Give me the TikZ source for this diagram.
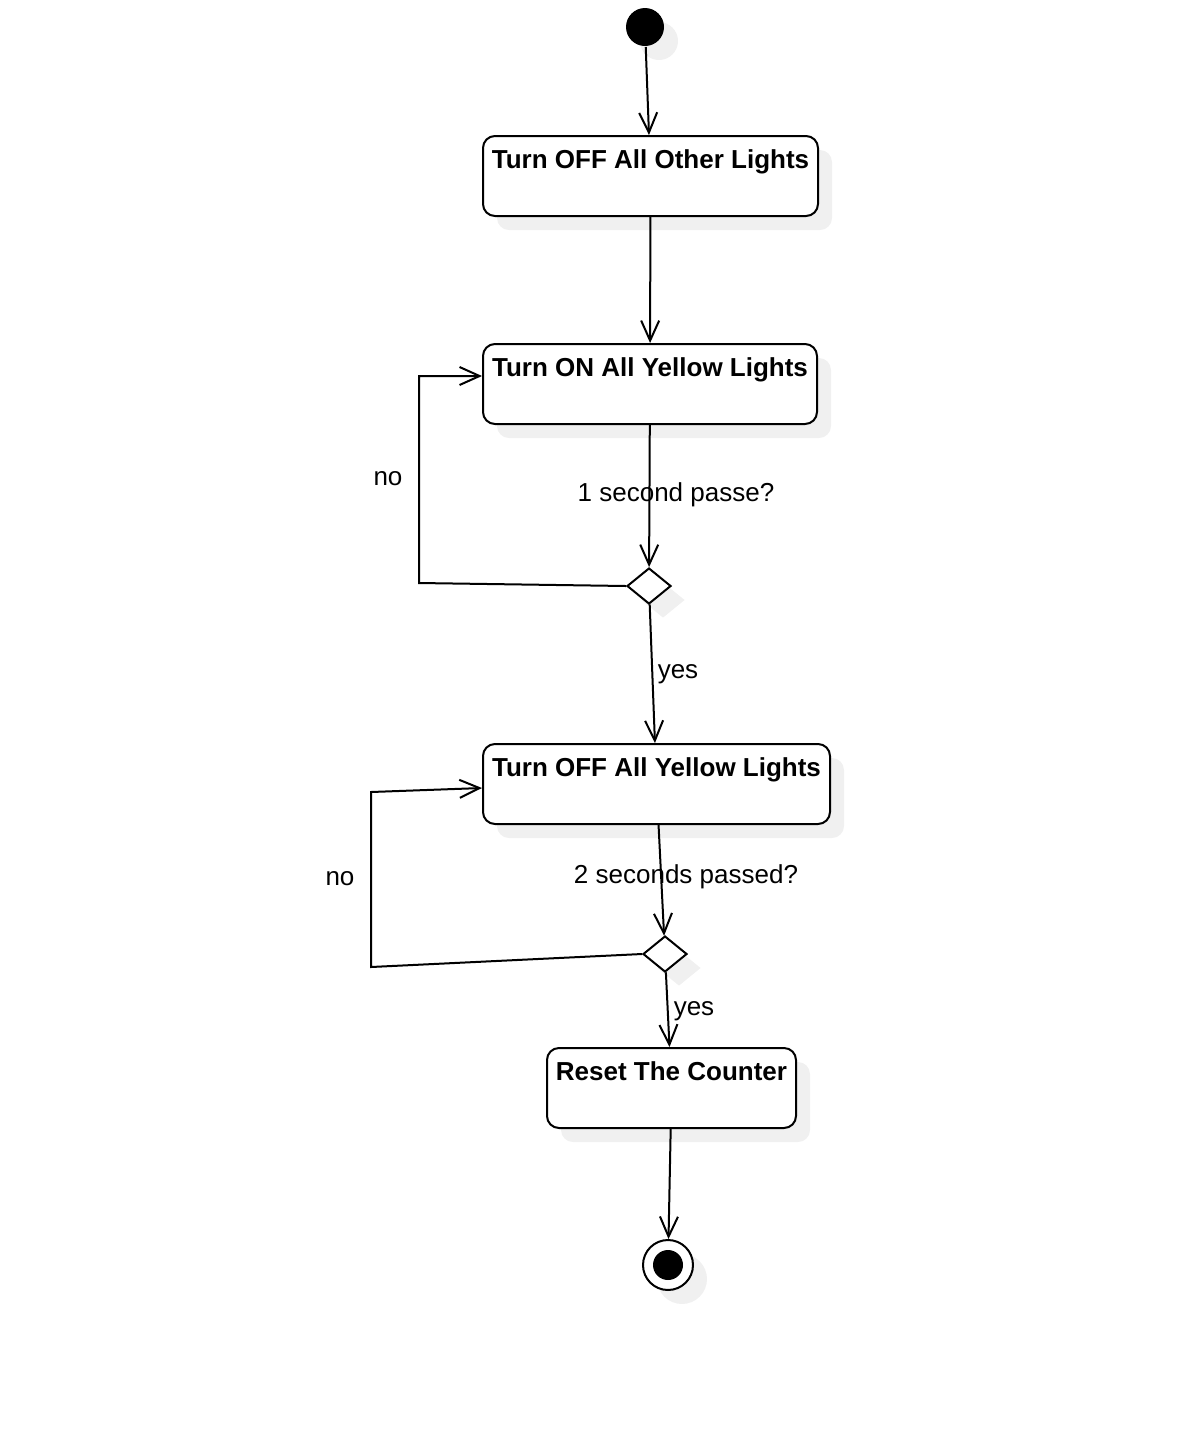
\documentclass[tikz,border=0pt]{standalone}
\usepackage{fontspec}
\setmainfont{Liberation Sans}
\usetikzlibrary{arrows.meta,shapes.geometric,shadows}

\begin{document}
\begin{tikzpicture}[x=0.5pt,y=-0.5pt,
	font=\fontsize{13}{15.6}\selectfont,
	line width=1pt,
	ghost/.style={drop shadow={shadow xshift=7pt,shadow yshift=-7pt,fill=black!6,opacity=1}},
	activity/.style={draw,rounded corners=6pt,ghost,fill=white,inner sep=0pt,minimum height=40pt},
	title/.style={anchor=base,yshift=-16.5pt,inner sep=0pt,font=\fontsize{13}{15.6}\selectfont\bfseries},
	decision/.style={draw,diamond,ghost,fill=white,inner sep=0pt,minimum width=22pt,minimum height=18pt},
	flow/.style={-{Straight Barb[length=10pt,width=9pt]}},
	guard/.style={anchor=base,inner sep=0pt}]
	\useasboundingbox (0,0) rectangle (1190,1448);
	\node[circle,fill,ghost,minimum size=19pt,inner sep=0pt] (start) at (645,27) {};
	\node[activity,minimum width=167.5pt,label={[title]north:Turn OFF All Other Lights}] (other) at (650.5,176) {};
	\node[activity,minimum width=167pt,label={[title]north:Turn ON All Yellow Lights}] (yellowon) at (650,384) {};
	\node[decision] (wait1) at (649,586) {};
	\node[activity,minimum width=173.5pt,label={[title]north:Turn OFF All Yellow Lights}] (yellowoff) at (656.5,784) {};
	\node[decision] (wait2) at (665,954) {};
	\node[activity,minimum width=124.5pt,label={[title]north:Reset The Counter}] (reset) at (671.5,1088) {};
	\node[circle,draw,fill=white,ghost,minimum size=25pt,inner sep=0pt] (stop) at (668,1265) {};
	\node[circle,fill,minimum size=15pt,inner sep=0pt] (stopdot) at (stop) {};
	\draw[flow] (start) -- (other);
	\draw[flow] (other) -- (yellowon);
	\draw[flow] (yellowon) -- (wait1);
	\draw[flow] (wait1) -- (yellowoff);
	\draw[flow] (yellowoff) -- (wait2);
	\draw[flow] (wait2) -- (reset);
	\draw[flow] (reset) -- (stop);
	\coordinate (back1a) at (419,583);
	\coordinate (back1b) at (419,376);
	\draw[flow] (wait1.west) -- (back1a) -- (back1b) -- (back1b -| yellowon.west);
	\coordinate (back2a) at (371,967);
	\coordinate (back2b) at (371,792);
	\draw[flow] (wait2.west) -- (back2a) -- (back2b) -- ([yshift=-2pt]yellowoff.west);
	\node[guard] (no1) at (388,485) {no};
	\node[guard] (ask1) at (676,501) {1 second passe?};
	\node[guard] (yes1) at (678,678) {yes};
	\node[guard] (ask2) at (686,883) {2 seconds passed?};
	\node[guard] (no2) at (340,885) {no};
	\node[guard] (yes2) at (694,1015) {yes};
\end{tikzpicture}
\end{document}
